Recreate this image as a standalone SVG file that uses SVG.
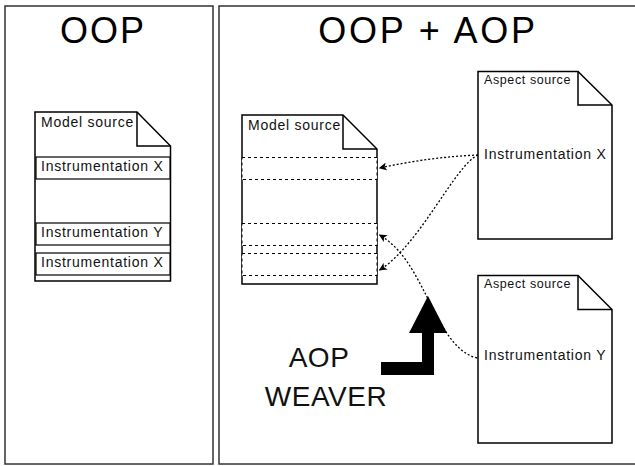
<svg xmlns="http://www.w3.org/2000/svg" width="635" height="466" viewBox="0 0 635 466">
<style>
.panel{fill:#fff;stroke:#333;stroke-width:1.5}
.doc{fill:#fff;stroke:#000;stroke-width:1.5}
.fold{fill:none;stroke:#000;stroke-width:1.5}
.band{fill:#fff;stroke:#000;stroke-width:1.2}
.dband{fill:#fff;stroke:#000;stroke-width:1;stroke-dasharray:3 3}
.t{font-family:"Liberation Sans",Arial,sans-serif;font-size:14px;fill:#111;letter-spacing:0.75px}
.ts{font-family:"Liberation Sans",Arial,sans-serif;font-size:12.5px;fill:#111;letter-spacing:0.6px}
.big{font-family:"Liberation Sans",Arial,sans-serif;font-size:36px;fill:#000}
.mid{font-family:"Liberation Sans",Arial,sans-serif;font-size:28px;fill:#111;letter-spacing:0.5px}
.conn{fill:none;stroke:#000;stroke-width:1.3;stroke-dasharray:2 2}
</style>
<defs>
<marker id="arr" viewBox="0 0 10 10" refX="9" refY="5" markerWidth="8" markerHeight="8" markerUnits="userSpaceOnUse" orient="auto">
<path d="M0,0 L10,5 L0,10 L2.5,5 Z" fill="#000"/>
</marker>
</defs>
<g id="oop-panel">
<rect class="panel" x="5" y="6" width="208" height="458"/>
<text class="big" x="103" y="43" text-anchor="middle" letter-spacing="2">OOP</text>
</g>
<g id="oopaop-panel">
<rect class="panel" x="219" y="6" width="430" height="458"/>
<text class="big" x="428" y="43" text-anchor="middle" letter-spacing="2.8">OOP + AOP</text>
</g>
<g id="model-source-left">
<path class="doc" d="M35,112 H137 L170.5,146 V281 H35 Z"/>
<path class="fold" d="M137,112 V146 H170.5"/>
<text class="t" x="41" y="127">Model source</text>
<rect class="band" x="36" y="157" width="134" height="22"/>
<text class="t" x="41" y="171">Instrumentation X</text>
<rect class="band" x="36" y="223" width="134" height="22"/>
<text class="t" x="41" y="237">Instrumentation Y</text>
<rect class="band" x="36" y="253" width="134" height="22"/>
<text class="t" x="41" y="267">Instrumentation X</text>
</g>
<g id="model-source-right">
<path class="doc" d="M242,115 H343 L377,149 V284 H242 Z"/>
<path class="fold" d="M343,115 V149 H377"/>
<text class="t" x="248" y="130">Model source</text>
<rect class="dband" x="242" y="157.5" width="135" height="22"/>
<rect class="dband" x="242" y="223.5" width="135" height="22"/>
<rect class="dband" x="242" y="253.5" width="135" height="22"/>
</g>
<g id="aspect-x">
<path class="doc" d="M478,71.5 H578 L612,105 V239 H478 Z"/>
<path class="fold" d="M578,71.5 V105 H612"/>
<text class="ts" x="484" y="84">Aspect source</text>
<text class="t" x="484" y="159">Instrumentation X</text>
</g>
<g id="aspect-y">
<path class="doc" d="M478,275.5 H578 L612,309.5 V443 H478 Z"/>
<path class="fold" d="M578,275.5 V309.5 H612"/>
<text class="ts" x="484" y="288">Aspect source</text>
<text class="t" x="484" y="360">Instrumentation Y</text>
</g>
<g id="weaver">
<polygon points="381,362 422,362 422,333 409,333 428,296 447,333 434,333 434,375 381,375" fill="#000"/>
<text class="mid" x="319" y="367" text-anchor="middle">AOP</text>
<text class="mid" x="326" y="406" text-anchor="middle">WEAVER</text>
</g>
<g id="connectors">
<path class="conn" d="M478,155 Q430,157 379.5,168" marker-end="url(#arr)"/>
<path class="conn" d="M478,155 C455,165 420,245 379.5,270" marker-end="url(#arr)"/>
<path class="conn" d="M477,358 C452,352 438,318 425,293 C414,272 402,248 379.5,235" marker-end="url(#arr)"/>
</g>
</svg>
